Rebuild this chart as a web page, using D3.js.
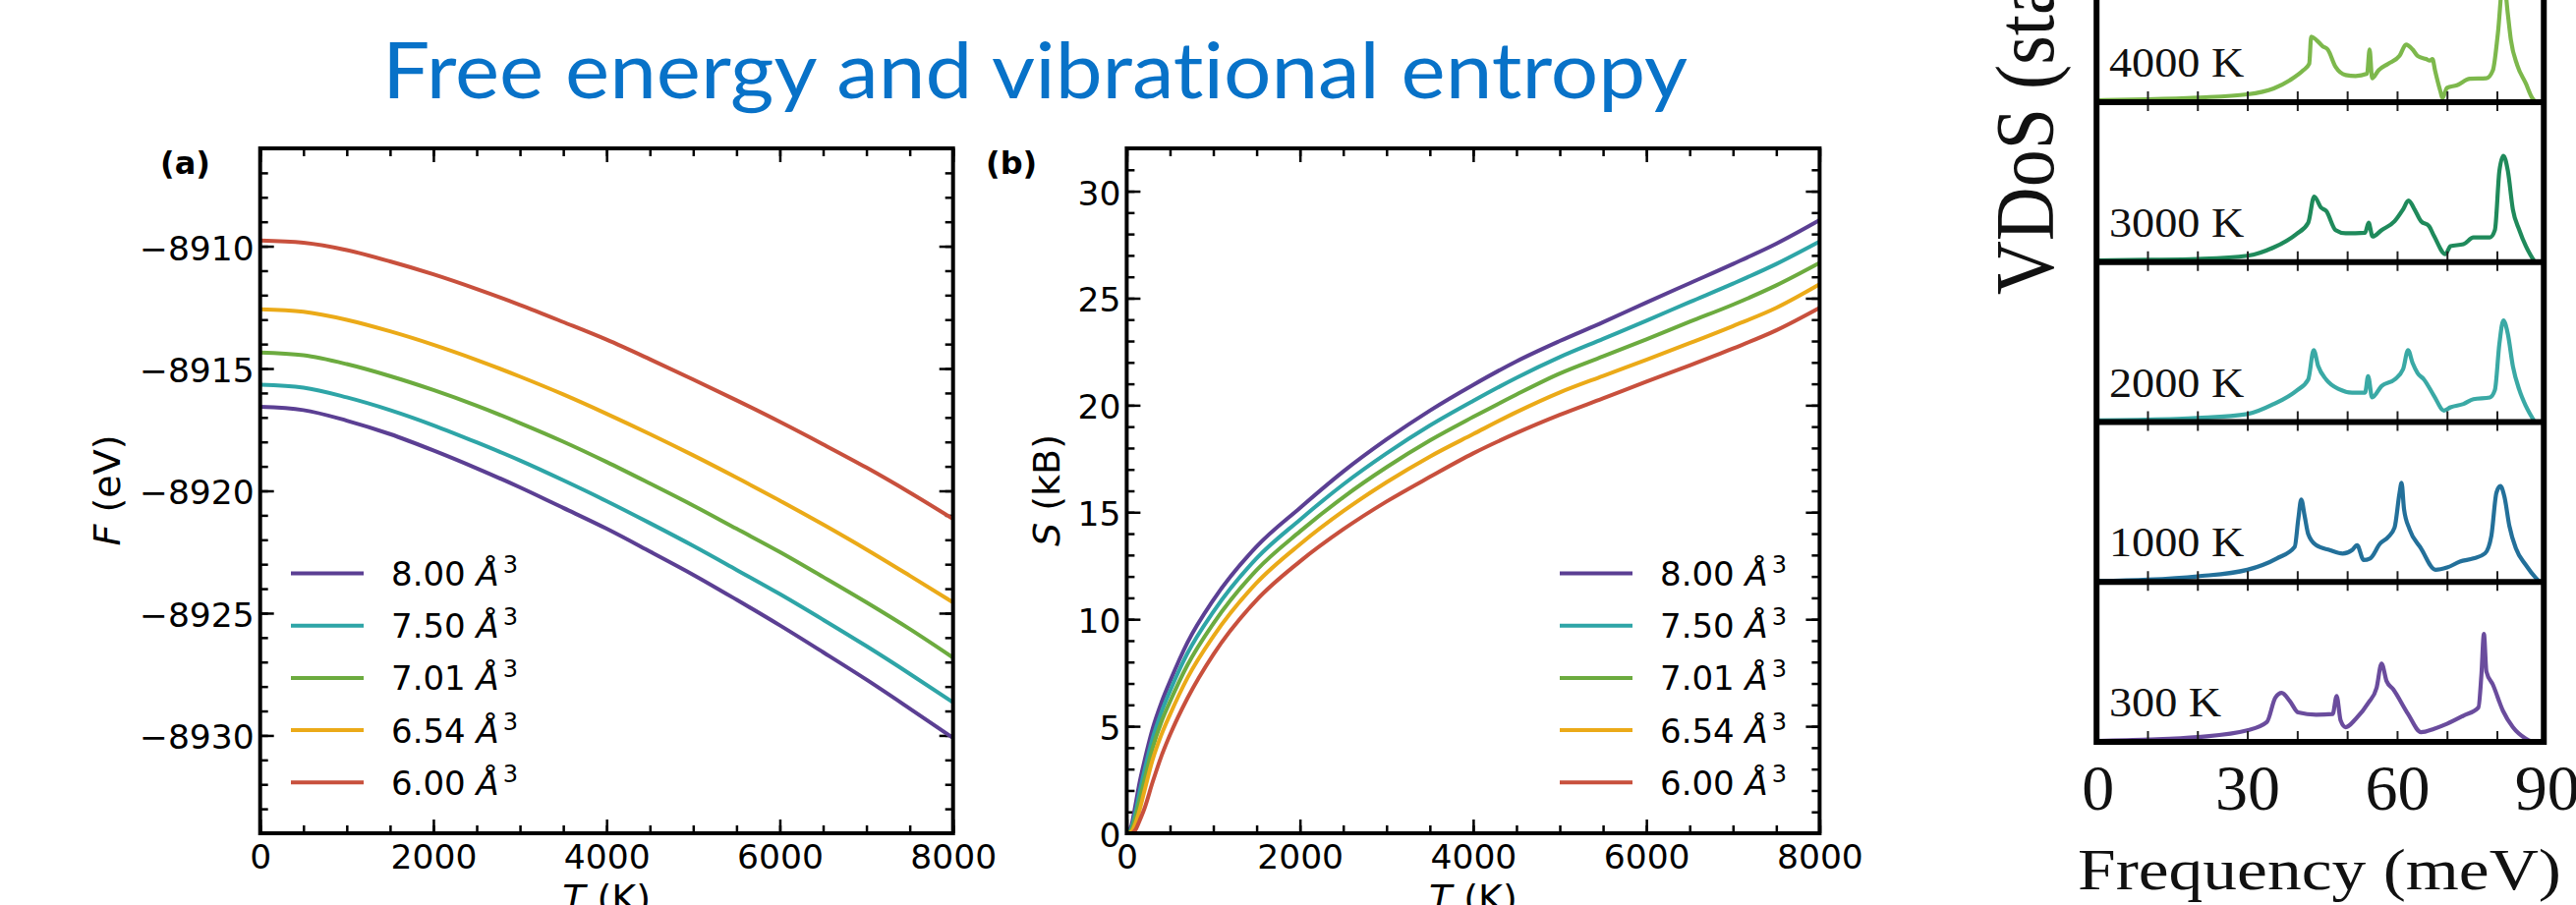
<!DOCTYPE html>
<html>
<head>
<meta charset="utf-8">
<script src="https://cdn.jsdelivr.net/npm/d3@7"></script>
<style>
  body { margin: 0; background: #fff; }
  svg { display: block; }
</style>
</head>
<body>
<svg id="chart" width="2621" height="921"></svg>
<script>
// ---- data ----
const volumes = ["8.00", "7.50", "7.01", "6.54", "6.00"];
const colors = ["#5b3f93", "#2ea5a7", "#6cab3f", "#ebaa18", "#c8503d"];

// free energy F (eV) vs T
const tempF = [0, 500, 1000, 1500, 2000, 2500, 3000, 3500, 4000, 4500, 5000, 5500, 6000, 6500, 7000, 7500, 8000];
const freeEnergy800 = [-8916.57, -8916.70, -8917.13, -8917.68, -8918.35, -8919.08, -8919.86, -8920.70, -8921.55, -8922.48, -8923.43, -8924.45, -8925.50, -8926.60, -8927.72, -8928.90, -8930.10];
const freeEnergy750 = [-8915.66, -8915.78, -8916.18, -8916.70, -8917.32, -8918.02, -8918.76, -8919.57, -8920.42, -8921.32, -8922.25, -8923.23, -8924.22, -8925.27, -8926.35, -8927.48, -8928.65];
const freeEnergy701 = [-8914.35, -8914.46, -8914.82, -8915.31, -8915.88, -8916.52, -8917.23, -8917.99, -8918.82, -8919.70, -8920.60, -8921.55, -8922.50, -8923.52, -8924.56, -8925.65, -8926.82];
const freeEnergy654 = [-8912.58, -8912.68, -8913.01, -8913.48, -8914.03, -8914.65, -8915.33, -8916.06, -8916.85, -8917.68, -8918.55, -8919.46, -8920.40, -8921.38, -8922.40, -8923.47, -8924.56];
const freeEnergy600 = [-8909.77, -8909.86, -8910.16, -8910.62, -8911.15, -8911.75, -8912.40, -8913.10, -8913.82, -8914.62, -8915.45, -8916.30, -8917.18, -8918.10, -8919.05, -8920.07, -8921.15];

// vibrational entropy S (kB) vs T
const tempS = [0, 50, 100, 150, 200, 300, 400, 500, 700, 1000, 1500, 2000, 2500, 3000, 3500, 4000, 4500, 5000, 5500, 6000, 6500, 7000, 7500, 8000];
const entropy800 = [0, 0.3, 1.3, 2.4, 3.3, 4.9, 6.1, 7.1, 8.9, 10.9, 13.4, 15.2, 16.9, 18.4, 19.75, 20.95, 22.05, 23.0, 23.88, 24.8, 25.7, 26.6, 27.55, 28.65];
const entropy750 = [0, 0.2, 0.95, 1.95, 2.85, 4.45, 5.65, 6.65, 8.4, 10.35, 12.85, 14.65, 16.3, 17.75, 19.05, 20.2, 21.28, 22.25, 23.1, 23.95, 24.82, 25.68, 26.6, 27.65];
const entropy701 = [0, 0.12, 0.7, 1.55, 2.4, 4.0, 5.2, 6.15, 7.85, 9.8, 12.3, 14.1, 15.7, 17.1, 18.35, 19.45, 20.5, 21.48, 22.28, 23.08, 23.9, 24.7, 25.6, 26.65];
const entropy654 = [0, 0.05, 0.45, 1.1, 1.9, 3.45, 4.6, 5.55, 7.25, 9.2, 11.7, 13.5, 15.05, 16.4, 17.6, 18.65, 19.68, 20.6, 21.37, 22.12, 22.9, 23.7, 24.55, 25.65];
const entropy600 = [0, 0, 0.15, 0.6, 1.1, 2.4, 3.6, 4.6, 6.3, 8.35, 10.9, 12.7, 14.2, 15.5, 16.65, 17.75, 18.7, 19.55, 20.32, 21.1, 21.86, 22.65, 23.5, 24.55];

const freeEnergy = [freeEnergy800, freeEnergy750, freeEnergy701, freeEnergy654, freeEnergy600];
const entropy = [entropy800, entropy750, entropy701, entropy654, entropy600];

// VDoS panels: [frequency meV, intensity (fraction of panel height)]
const vdosTemps = ["4000 K", "3000 K", "2000 K", "1000 K", "300 K"];
const vdosColors = ["#7db84c", "#1f8a5b", "#3aa9a5", "#23709a", "#6a4c9d"];
const vdos4000 = [[0,0.012],[10,0.018],[20,0.029],[30,0.049],[35.3,0.086],[38.5,0.137],[41.2,0.199],[42.4,0.24],[42.8,0.41],[43.8,0.39],[45.1,0.35],[46.1,0.33],[47.7,0.22],[49.7,0.17],[51.7,0.164],[54,0.178],[54.5,0.33],[55,0.15],[56.3,0.2],[58.2,0.24],[60.5,0.29],[61.8,0.36],[63.1,0.33],[64.1,0.29],[65.8,0.27],[66.6,0.26],[67.1,0.27],[67.6,0.2],[68.7,0.066],[69.1,0.025],[70,0.09],[72,0.106],[74.6,0.147],[77.9,0.15],[79.2,0.2],[80.2,0.43],[81.3,0.78],[82.2,0.55],[82.8,0.39],[84.1,0.23],[85.8,0.117],[87.1,0.025],[87.8,0]];
const vdos3000 = [[0,0.01],[10,0.014],[20,0.02],[30,0.04],[35.3,0.092],[39.8,0.175],[42.2,0.246],[43.4,0.41],[44.8,0.34],[45.8,0.32],[47.7,0.2],[49.7,0.18],[53.6,0.184],[54.3,0.246],[55.1,0.16],[56.9,0.2],[59.5,0.256],[61.2,0.33],[62.3,0.385],[63.5,0.33],[64.8,0.256],[66.4,0.225],[67.4,0.164],[69.7,0.05],[70.7,0.1],[73.3,0.112],[75.3,0.154],[78.6,0.154],[79.6,0.2],[80.5,0.57],[81.3,0.665],[82.2,0.57],[83.2,0.33],[84.5,0.2],[85.8,0.1],[87.4,0.01]];
const vdos2000 = [[0,0.01],[10,0.014],[20,0.025],[30,0.05],[35.3,0.113],[39.8,0.195],[42.2,0.266],[43.3,0.45],[44.2,0.35],[45.8,0.266],[48.4,0.205],[51,0.184],[53.6,0.184],[54.2,0.287],[55,0.154],[56.9,0.225],[59.5,0.266],[61.2,0.33],[62.2,0.45],[63.1,0.37],[64.1,0.307],[65.4,0.266],[67.4,0.164],[69.4,0.072],[70.7,0.092],[73.3,0.113],[75.3,0.143],[78.6,0.154],[79.6,0.2],[80.5,0.49],[81.3,0.635],[82.2,0.55],[83.2,0.35],[84.5,0.2],[85.8,0.1],[87.4,0.01]];
const vdos1000 = [[0,0.005],[10,0.014],[20,0.035],[30,0.076],[35.9,0.147],[39.5,0.22],[40.2,0.39],[40.8,0.516],[41.5,0.41],[42.2,0.3],[43.8,0.23],[46.5,0.2],[49.1,0.178],[51,0.2],[52,0.23],[53.3,0.137],[54.6,0.147],[56.6,0.24],[58.2,0.28],[59.5,0.34],[60.5,0.557],[60.9,0.62],[61.4,0.455],[62.5,0.33],[64.8,0.21],[67.7,0.076],[70,0.09],[72.6,0.127],[75.3,0.147],[77.6,0.178],[78.9,0.29],[79.9,0.557],[80.7,0.6],[81.5,0.535],[82.5,0.35],[83.8,0.21],[85.8,0.106],[87.8,0.025],[88.6,0]];
const vdos300 = [[0,0.006],[10,0.014],[20,0.03],[30,0.072],[33.9,0.123],[35.6,0.276],[36.9,0.307],[38.5,0.256],[40.2,0.184],[43.8,0.17],[47.1,0.174],[47.9,0.287],[48.7,0.133],[49.7,0.092],[51.7,0.143],[54.3,0.246],[55.9,0.338],[56.9,0.49],[57.9,0.38],[59.2,0.33],[62.2,0.174],[64.8,0.061],[67.4,0.082],[70,0.113],[73.3,0.164],[76.3,0.215],[76.9,0.42],[77.4,0.676],[77.9,0.44],[79.2,0.358],[81.2,0.195],[83.2,0.092],[85.8,0.02],[87.1,0]];
const vdos = [vdos4000, vdos3000, vdos2000, vdos1000, vdos300];
const vdosTickLabels = [0, 30, 60, 90];

// ---- drawing ----
const svg = d3.select("#chart");
const mpl = "DejaVu Sans, Verdana, sans-serif";
const serif = "Liberation Serif, Times New Roman, serif";

svg.append("text")
  .attr("x", 389).attr("y", 100)
  .attr("font-family", "Lato, Roboto, sans-serif")
  .attr("font-size", 80)
  .attr("fill", "#0872c8")
  .attr("textLength", 1328).attr("lengthAdjust", "spacingAndGlyphs")
  .style("font-variant-ligatures", "none")
  .text("Free energy and vibrational entropy");

function drawPanel(opt) {
  const x = d3.scaleLinear().domain([0, 8000]).range([opt.left, opt.left + 705]);
  const y = d3.scaleLinear().domain(opt.ydom).range([848, 151]);
  const g = svg.append("g");

  const xMinor = d3.range(0, 8001, 500);
  const yMinor = d3.range(opt.ydom[0], opt.ydom[1] + 0.001, 1);
  const fmt = d3.format("d");

  const styleAxis = (sel) => {
    sel.select(".domain").remove();
    sel.selectAll(".tick line").attr("stroke", "#000").attr("stroke-width", 2.5);
    sel.selectAll(".tick text").attr("font-family", mpl).attr("font-size", 34.5).attr("fill", "#000");
  };

  // minor ticks
  g.append("g").attr("transform", `translate(0,${y.range()[0]})`)
    .call(d3.axisBottom(x).tickValues(xMinor).tickSize(-8).tickFormat("")).call(styleAxis);
  g.append("g").attr("transform", `translate(0,${y.range()[1]})`)
    .call(d3.axisTop(x).tickValues(xMinor).tickSize(-8).tickFormat("")).call(styleAxis);
  g.append("g").attr("transform", `translate(${x.range()[0]},0)`)
    .call(d3.axisLeft(y).tickValues(yMinor).tickSize(-8).tickFormat("")).call(styleAxis);
  g.append("g").attr("transform", `translate(${x.range()[1]},0)`)
    .call(d3.axisRight(y).tickValues(yMinor).tickSize(-8).tickFormat("")).call(styleAxis);

  // major ticks
  g.append("g").attr("transform", `translate(0,${y.range()[0]})`)
    .call(d3.axisBottom(x).tickValues([0, 2000, 4000, 6000, 8000]).tickSize(-14).tickPadding(12).tickFormat(fmt))
    .call(styleAxis);
  g.append("g").attr("transform", `translate(0,${y.range()[1]})`)
    .call(d3.axisTop(x).tickValues([0, 2000, 4000, 6000, 8000]).tickSize(-14).tickFormat("")).call(styleAxis);
  const yl = g.append("g").attr("transform", `translate(${x.range()[0]},0)`)
    .call(d3.axisLeft(y).tickValues(opt.yticks).tickSize(-14).tickPadding(6).tickFormat(fmt)).call(styleAxis);
  yl.selectAll(".tick text").attr("dy", "0.39em");
  g.append("g").attr("transform", `translate(${x.range()[1]},0)`)
    .call(d3.axisRight(y).tickValues(opt.yticks).tickSize(-14).tickFormat("")).call(styleAxis);

  // curves
  const line = d3.line().x(d => x(d[0])).y(d => y(d[1])).curve(d3.curveMonotoneX);
  opt.series.forEach((vals, i) => {
    g.append("path")
      .datum(opt.temps.map((t, j) => [t, vals[j]]))
      .attr("d", line)
      .attr("fill", "none")
      .attr("stroke", colors[i])
      .attr("stroke-width", 4);
  });

  // frame
  g.append("rect")
    .attr("x", x.range()[0]).attr("y", y.range()[1])
    .attr("width", x.range()[1] - x.range()[0])
    .attr("height", y.range()[0] - y.range()[1])
    .attr("fill", "none").attr("stroke", "#000").attr("stroke-width", 4);

  // legend
  const leg = g.append("g");
  volumes.forEach((v, i) => {
    const ly = 583.5 + i * 53.2;
    leg.append("line")
      .attr("x1", opt.legX).attr("x2", opt.legX + 74)
      .attr("y1", ly).attr("y2", ly)
      .attr("stroke", colors[i]).attr("stroke-width", 4);
    const t = leg.append("text")
      .attr("x", opt.legX + 102).attr("y", ly).attr("dy", "0.37em")
      .attr("font-family", mpl).attr("font-size", 34).attr("fill", "#000");
    t.append("tspan").text(v + " ");
    t.append("tspan").attr("font-style", "italic").text("Å");
    t.append("tspan").attr("font-size", 24).attr("dx", 4).attr("dy", -13).text("3");
  });

  // panel letter
  svg.append("text").attr("x", opt.letterX).attr("y", 177)
    .attr("font-family", mpl).attr("font-weight", "bold").attr("font-size", 32)
    .text(opt.letter);

  // axis labels
  const xl = svg.append("text")
    .attr("x", (x.range()[0] + x.range()[1]) / 2).attr("y", 927)
    .attr("text-anchor", "middle").attr("font-family", mpl).attr("font-size", 38);
  xl.append("tspan").attr("font-style", "italic").text("T");
  xl.append("tspan").text(" (K)");

  const ylab = svg.append("text")
    .attr("transform", `translate(${opt.ylabX},499) rotate(-90)`)
    .attr("text-anchor", "middle").attr("font-family", mpl).attr("font-size", 38);
  ylab.append("tspan").attr("font-style", "italic").text(opt.ylabVar);
  ylab.append("tspan").text(opt.ylabUnit);
}

drawPanel({
  left: 264.7, ydom: [-8934, -8906], yticks: [-8930, -8925, -8920, -8915, -8910],
  temps: tempF, series: freeEnergy, legX: 296, letter: "(a)", letterX: 163,
  ylabX: 122, ylabVar: "F", ylabUnit: " (eV)"
});
drawPanel({
  left: 1146.4, ydom: [0, 32], yticks: [0, 5, 10, 15, 20, 25, 30],
  temps: tempS, series: entropy, legX: 1587, letter: "(b)", letterX: 1003,
  ylabX: 1078, ylabVar: "S", ylabUnit: " (kB)"
});

// ---- VDoS stack (right) ----
const xv = d3.scaleLinear().domain([0, 90]).range([2134.2, 2591.3]);
const base = d3.scaleLinear().domain([0, vdosTemps.length - 1]).range([104, 755]);
const panelH = base(1) - base(0);
const vg = svg.append("g");
const vline = d3.line().x(d => xv(d[0])).y(d => d[1]).curve(d3.curveMonotoneX);

vdos.forEach((pts, i) => {
  const b = base(i);
  vg.append("path")
    .datum(pts.map(p => [p[0], b - p[1] * panelH]))
    .attr("d", vline)
    .attr("fill", "none").attr("stroke", vdosColors[i]).attr("stroke-width", 4.2)
    .attr("stroke-linejoin", "round");
  vg.append("text")
    .attr("transform", `translate(2146,${b - 26}) scale(1.1,1)`)
    .attr("font-family", serif).attr("font-size", 42).attr("fill", "#111")
    .text(vdosTemps[i]);
});

const frameL = xv(-0.2), frameR = xv(89.4);
vdos.forEach((pts, i) => {
  const b = base(i);
  const ax = vg.append("g").attr("transform", `translate(0,${b})`)
    .call(d3.axisBottom(xv).tickValues(d3.range(10, 81, 10)).tickSize(-11).tickFormat(""));
  ax.select(".domain").remove();
  ax.selectAll(".tick line").attr("stroke", "#222").attr("stroke-width", 2);
  if (i < vdos.length - 1) {
    const ax2 = vg.append("g").attr("transform", `translate(0,${b})`)
      .call(d3.axisBottom(xv).tickValues(d3.range(10, 81, 10)).tickSize(9).tickFormat(""));
    ax2.select(".domain").remove();
    ax2.selectAll(".tick line").attr("stroke", "#222").attr("stroke-width", 2);
  }
  vg.append("line").attr("x1", frameL).attr("x2", frameR).attr("y1", b).attr("y2", b)
    .attr("stroke", "#000").attr("stroke-width", 6);
});
[frameL, frameR].forEach(fx => {
  vg.append("line").attr("x1", fx).attr("x2", fx).attr("y1", -10).attr("y2", base(vdos.length - 1) + 3)
    .attr("stroke", "#000").attr("stroke-width", 6);
});

const bottomAx = vg.append("g").attr("transform", `translate(0,${base(vdos.length - 1)})`)
  .call(d3.axisBottom(xv).tickValues(vdosTickLabels).tickSize(0).tickPadding(22));
bottomAx.select(".domain").remove();
bottomAx.selectAll(".tick text").attr("font-family", serif).attr("font-size", 66).attr("fill", "#111");

vg.append("text")
  .attr("x", 2360).attr("y", 905).attr("text-anchor", "middle")
  .attr("font-family", serif).attr("font-size", 60).attr("fill", "#111")
  .attr("textLength", 492).attr("lengthAdjust", "spacingAndGlyphs")
  .text("Frequency (meV)");

vg.append("text")
  .attr("transform", "translate(2089,300) scale(1.1,1) rotate(-90)")
  .attr("font-family", serif).attr("font-size", 76).attr("fill", "#111")
  .text("VDoS (states/meV)");
</script>
</body>
</html>
